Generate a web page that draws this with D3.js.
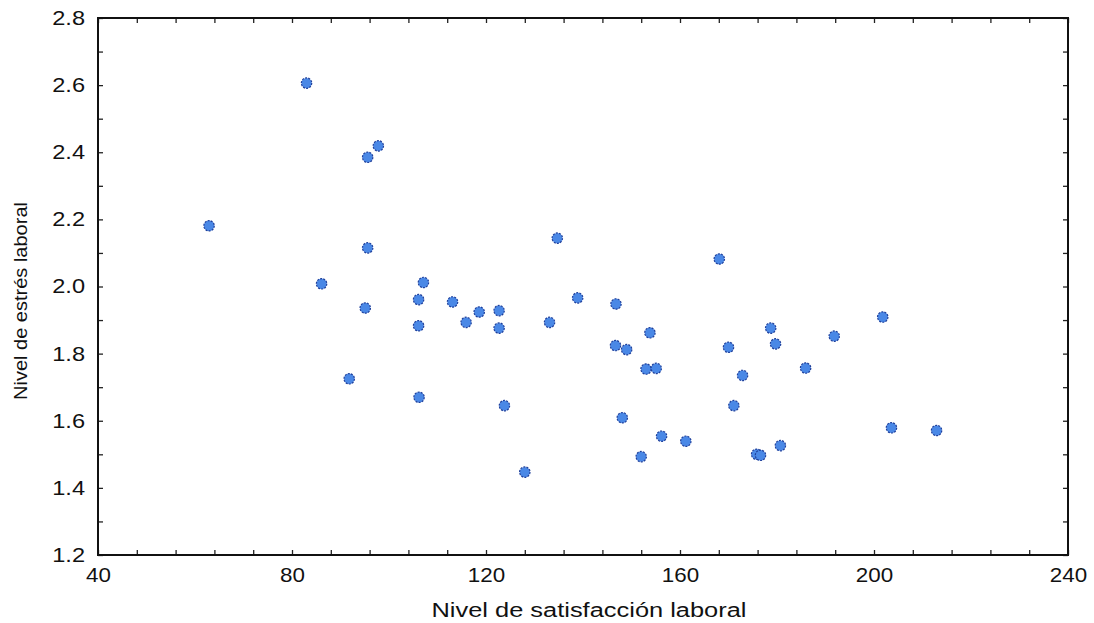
<!DOCTYPE html>
<html>
<head>
<meta charset="utf-8">
<script src="https://cdn.jsdelivr.net/npm/d3@7"></script>
<style>
	body { margin: 0; background: #fff; }
	svg { display: block; }
	text { font-family: "Liberation Sans", Arial, sans-serif; fill: #111; }
</style>
</head>
<body>
<script>
//data
var satisfaccion = [62.9, 83.0, 86.1, 91.8, 95.1, 95.6, 95.6, 97.8, 106.1, 106.1, 106.2, 107.1, 113.1, 115.9, 118.6, 122.7, 122.7, 123.8, 128.0, 133.1, 134.7, 138.9, 146.8, 146.7, 148.1, 149.0, 152.0, 153.0, 153.8, 155.1, 156.2, 161.2, 168.1, 170.0, 171.1, 172.9, 175.8, 176.6, 178.7, 179.7, 180.7, 185.9, 191.8, 201.8, 203.6, 212.9];
var estres = [2.181, 2.606, 2.008, 1.725, 1.936, 2.385, 2.115, 2.419, 1.961, 1.883, 1.670, 2.012, 1.954, 1.893, 1.924, 1.928, 1.876, 1.645, 1.447, 1.893, 2.144, 1.966, 1.948, 1.824, 1.609, 1.812, 1.493, 1.754, 1.862, 1.756, 1.554, 1.539, 2.082, 1.819, 1.645, 1.735, 1.500, 1.497, 1.876, 1.829, 1.526, 1.757, 1.852, 1.909, 1.579, 1.571];
var x_ticks = [40, 80, 120, 160, 200, 240];
var y_ticks = [1.2, 1.4, 1.6, 1.8, 2.0, 2.2, 2.4, 2.6, 2.8];
var x_label = "Nivel de satisfacción laboral";
var y_label = "Nivel de estrés laboral";

var width = 1094, height = 623;
var margin = { top: 18, right: 26, bottom: 68, left: 98 };

var svg = d3.select("body").append("svg")
	.attr("width", width)
	.attr("height", height);

var x = d3.scaleLinear().domain([40, 240]).range([margin.left, width - margin.right]);
var y = d3.scaleLinear().domain([1.2, 2.8]).range([height - margin.bottom, margin.top]);

//minor ticks, every 8 on x and 0.1 on y
var x_minor = d3.range(40, 240.1, 8);
var y_minor = d3.range(12, 28.1, 1).map(function (d) { return d / 10; });

//inward ticks on all four sides
svg.append("g")
	.attr("transform", "translate(0," + y.range()[0] + ")")
	.call(d3.axisBottom(x).tickValues(x_minor).tickSize(-5).tickFormat(""));
svg.append("g")
	.attr("transform", "translate(0," + y.range()[1] + ")")
	.call(d3.axisTop(x).tickValues(x_minor).tickSize(-5).tickFormat(""));
svg.append("g")
	.attr("transform", "translate(" + x.range()[0] + ",0)")
	.call(d3.axisLeft(y).tickValues(y_minor).tickSize(-5).tickFormat(""));
svg.append("g")
	.attr("transform", "translate(" + x.range()[1] + ",0)")
	.call(d3.axisRight(y).tickValues(y_minor).tickSize(-5).tickFormat(""));
svg.selectAll(".domain").remove();
svg.selectAll(".tick line").attr("stroke", "#222").attr("stroke-width", 1.3);

//tick labels (the original font is a bit wider, so stretch it)
svg.append("g")
	.attr("transform", "translate(0," + y.range()[0] + ")")
	.call(d3.axisBottom(x).tickValues(x_ticks).tickSize(0).tickPadding(13).tickFormat(d3.format("d")))
	.call(function (g) { g.select(".domain").remove(); })
	.selectAll("text")
	.style("font-size", "20px")
	.attr("fill", "#111")
	.attr("transform", "scale(1.12,1)");
svg.append("g")
	.attr("transform", "translate(" + x.range()[0] + ",0)")
	.call(d3.axisLeft(y).tickValues(y_ticks).tickSize(0).tickPadding(11).tickFormat(d3.format(".1f")))
	.call(function (g) { g.select(".domain").remove(); })
	.selectAll("text")
	.style("font-size", "20px")
	.attr("fill", "#111")
	.attr("transform", "scale(1.18,1)");

//frame
svg.append("rect")
	.attr("x", x.range()[0])
	.attr("y", y.range()[1])
	.attr("width", x.range()[1] - x.range()[0])
	.attr("height", y.range()[0] - y.range()[1])
	.style("fill", "none")
	.style("stroke", "#111")
	.style("stroke-width", 2);

//points
svg.append("g").selectAll("circle")
	.data(d3.range(satisfaccion.length))
	.enter().append("circle")
	.attr("cx", function (i) { return x(satisfaccion[i]); })
	.attr("cy", function (i) { return y(estres[i]); })
	.attr("r", 5.2)
	.style("fill", "#4a88e6")
	.style("stroke", "#1f3f9a")
	.style("stroke-width", 1.2)
	.style("stroke-dasharray", "2,1.2");

//axis titles
svg.append("text")
	.attr("x", 589)
	.attr("y", 617)
	.attr("text-anchor", "middle")
	.attr("textLength", 315)
	.attr("lengthAdjust", "spacingAndGlyphs")
	.style("font-size", "20px")
	.text(x_label);
svg.append("text")
	.attr("transform", "translate(27,301) rotate(-90)")
	.attr("text-anchor", "middle")
	.attr("textLength", 198)
	.attr("lengthAdjust", "spacingAndGlyphs")
	.style("font-size", "19px")
	.text(y_label);
</script>
</body>
</html>
